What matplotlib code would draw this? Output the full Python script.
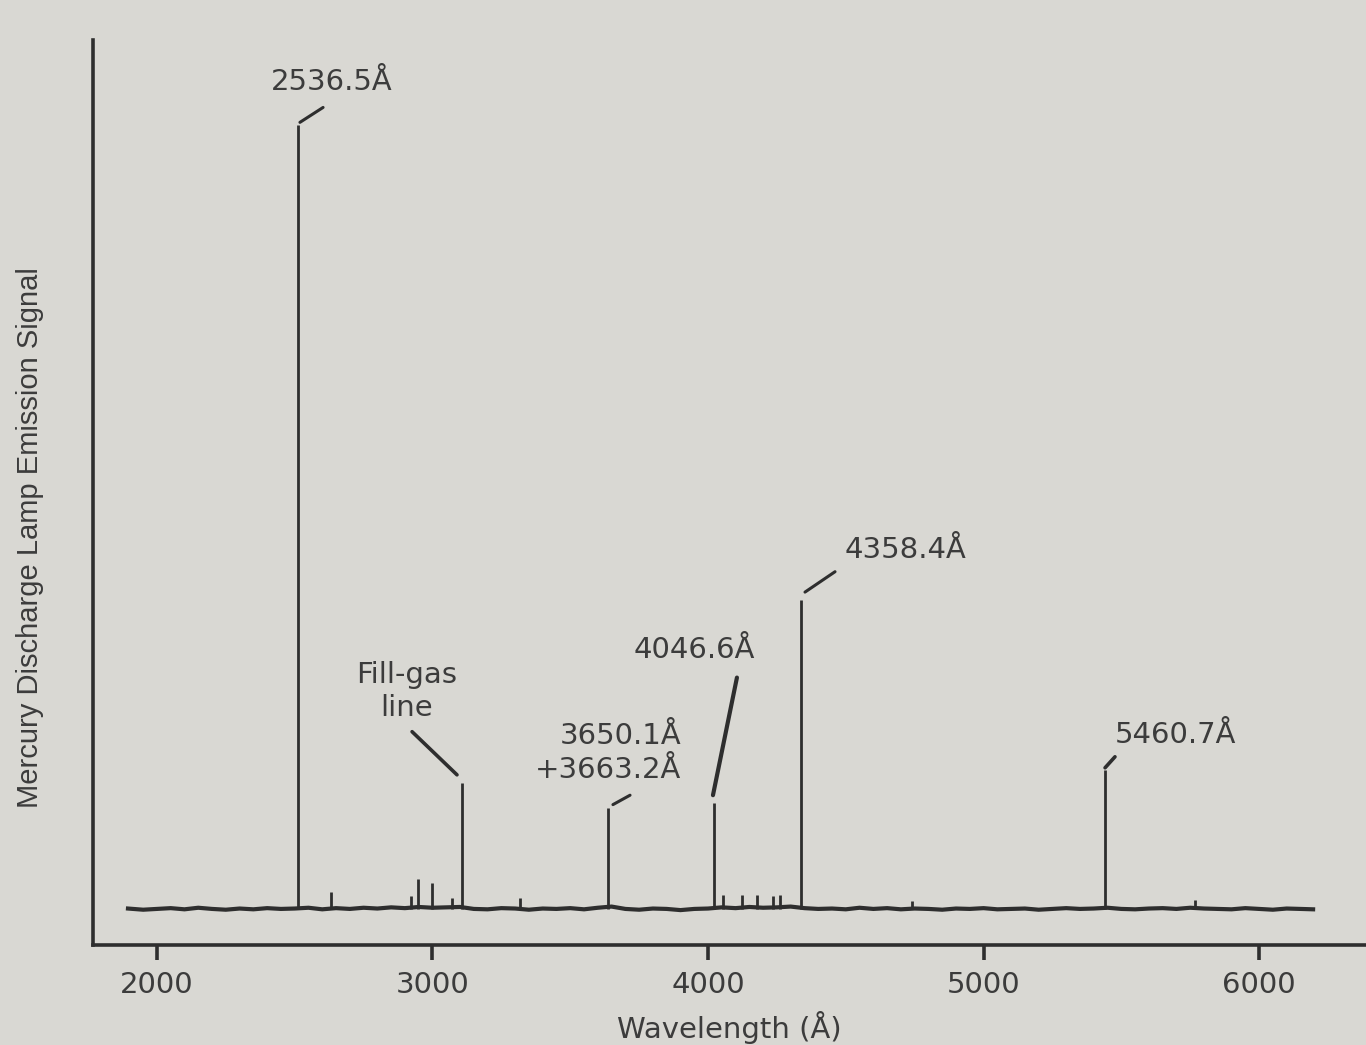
import matplotlib
matplotlib.use("Agg")
import matplotlib.pyplot as plt

# ---------------- data ----------------
baseline_wl = [1895, 1950, 2000, 2050, 2100, 2150, 2200, 2250, 2300, 2350, 2400, 2450,
               2500, 2550, 2600, 2650, 2700, 2750, 2800, 2850, 2900, 2950, 3000, 3050,
               3100, 3150, 3200, 3250, 3300, 3350, 3400, 3450, 3500, 3550, 3600, 3650,
               3700, 3750, 3800, 3850, 3900, 3950, 4000, 4050, 4100, 4150, 4200, 4250,
               4300, 4350, 4400, 4450, 4500, 4550, 4600, 4650, 4700, 4750, 4800, 4850,
               4900, 4950, 5000, 5050, 5100, 5150, 5200, 5250, 5300, 5350, 5400, 5450,
               5500, 5550, 5600, 5650, 5700, 5750, 5800, 5850, 5900, 5950, 6000, 6050,
               6100, 6150, 6196]
baseline_sig = [0.05, -0.10, 0.00, 0.10, -0.05, 0.15, 0.00, -0.10, 0.05, -0.05, 0.10, 0.00,
                0.05, 0.15, -0.05, 0.10, 0.00, 0.15, 0.05, 0.20, 0.10, 0.25, 0.15, 0.20,
                0.25, 0.00, -0.05, 0.10, 0.05, -0.10, 0.05, 0.00, 0.10, -0.05, 0.15, 0.30,
                0.00, -0.10, 0.05, 0.00, -0.15, 0.00, 0.05, 0.20, 0.10, 0.25, 0.15, 0.20,
                0.30, 0.10, 0.00, 0.05, -0.05, 0.15, 0.00, 0.10, -0.05, 0.05, 0.00, -0.10,
                0.05, 0.00, 0.10, -0.05, 0.00, 0.05, -0.10, 0.00, 0.10, 0.00, 0.05, 0.15,
                0.00, -0.05, 0.05, 0.10, 0.00, 0.15, 0.05, 0.00, -0.05, 0.10, 0.00, -0.10,
                0.05, 0.00, -0.05]

peak_wl = [2512, 2632, 2922, 2947, 2998, 3071, 3107, 3318, 3637, 4022,
           4055, 4124, 4178, 4236, 4261, 4337, 4740, 5441, 5768]
peak_sig = [100.0, 2.2, 1.6, 3.8, 3.3, 1.4, 16.1, 1.4, 12.9, 13.5,
            1.8, 1.8, 1.8, 1.6, 1.8, 39.4, 1.0, 17.7, 1.2]

x_ticks = [2000, 3000, 4000, 5000, 6000]
x_tick_labels = ["2000", "3000", "4000", "5000", "6000"]

# annotations: text, text position, leader start, leader end, alignment
annot_text = ["2536.5Å", "Fill-gas\nline", "3650.1Å\n+3663.2Å", "4046.6Å", "4358.4Å", "5460.7Å"]
annot_xy_text = [(2635, 105.5), (2907, 27.7), (3902, 19.9), (3949, 33.0), (4715, 45.8), (5695, 22.2)]
annot_ha = ["center", "center", "right", "center", "center", "center"]
leader_from = [(2519, 100.3), (2926, 22.6), (3655, 13.3), (4105, 29.5), (4352, 40.4), (5441, 18.0)]
leader_to = [(2603, 102.2), (3089, 17.1), (3717, 14.5), (4018, 14.5), (4461, 43.0), (5477, 19.4)]
leader_width = [2.2, 2.6, 2.2, 3.0, 2.2, 2.6]

# ---------------- style ----------------
BG = "#d9d8d3"
INK = "#2e2e2e"
TXT = "#3c3c3c"
plt.rcParams["font.family"] = ["DejaVu Sans"]

fig = plt.figure(figsize=(13.66, 10.45), dpi=100, facecolor=BG)
ax = fig.add_axes([93 / 1366, 1 - 945 / 1045, 1 - 93 / 1366, (945 - 40) / 1045])
ax.set_facecolor(BG)

ax.plot(baseline_wl, baseline_sig, color=INK, lw=3.0, solid_joinstyle="miter")
ax.vlines(peak_wl, 0, peak_sig, color=INK, lw=2.0)

ax.set_xlim(1768, 6388)
ax.set_ylim(-4.6, 110.8)

for s in ["top", "right"]:
    ax.spines[s].set_visible(False)
for s in ["left", "bottom"]:
    ax.spines[s].set_linewidth(2.6)
    ax.spines[s].set_color(INK)

ax.set_yticks([])
ax.set_xticks(x_ticks)
ax.set_xticklabels(x_tick_labels)
ax.tick_params(axis="x", direction="out", length=11, width=2.6, color=INK,
               pad=8, labelsize=21, labelcolor=TXT)

ax.set_xlabel("Wavelength (Å)", fontsize=21, color=TXT, labelpad=8)

fig.text(30 / 1366, 1 - 538 / 1045, "Mercury Discharge Lamp Emission Signal",
         rotation=90, ha="center", va="center", fontsize=21, color=TXT,
         family=["Liberation Sans Narrow", "Liberation Sans"])

for t, xyt, ha, p0, p1, lw in zip(annot_text, annot_xy_text, annot_ha,
                                  leader_from, leader_to, leader_width):
    ax.text(xyt[0], xyt[1], t, ha=ha, va="center", fontsize=21, color=TXT,
            multialignment=ha, linespacing=1.25)
    ax.plot([p0[0], p1[0]], [p0[1], p1[1]], color=INK, lw=lw, solid_capstyle="round")

fig.savefig("out.png", dpi=100, facecolor=BG)
